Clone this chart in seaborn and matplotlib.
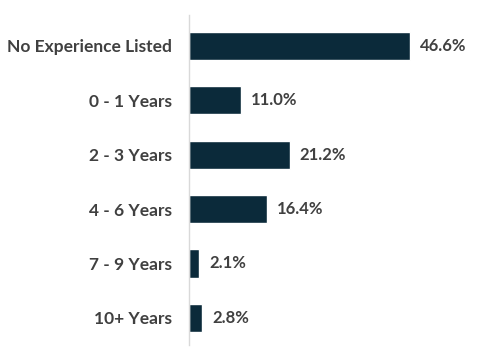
import matplotlib
matplotlib.use("Agg")
import matplotlib.pyplot as plt
import seaborn as sns
import pandas as pd

categories = ["No Experience Listed", "0 - 1 Years", "2 - 3 Years", "4 - 6 Years", "7 - 9 Years", "10+ Years"]
values = [46.6, 11.0, 21.2, 16.4, 2.1, 2.8]
value_labels = ["46.6%", "11.0%", "21.2%", "16.4%", "2.1%", "2.8%"]

sns.set_theme(style="white")
plt.rcParams["font.family"] = ["Lato", "DejaVu Sans"]

df = pd.DataFrame({"cat": categories, "val": values})

fig = plt.figure(figsize=(4.8, 3.64), dpi=100)
ax = fig.add_axes([0.394, 0.052, 0.606, 0.907])
sns.barplot(data=df, x="val", y="cat", color="#0b2a3a", saturation=1, width=0.52, ax=ax, orient="h")

ax.set_xlim(0, 61.4)
ax.set_ylim(5.5, -0.57)
ax.set_xlabel("")
ax.set_ylabel("")
ax.set_xticks([])
for s in ["top", "right", "bottom"]:
    ax.spines[s].set_visible(False)
ax.spines["left"].set_color("#d9d9d9")
ax.spines["left"].set_linewidth(1)
ax.tick_params(axis="y", length=0, pad=12.5)
for lab in ax.get_yticklabels():
    lab.set_fontsize(12.5)
    lab.set_fontweight("bold")
    lab.set_color("#404040")

for i, (v, t) in enumerate(zip(values, value_labels)):
    ax.annotate(t, xy=(v, i), xytext=(10, 0), textcoords="offset pixels",
                va="center", ha="left", fontsize=12, fontweight="bold", color="#404040")

fig.savefig("out.png", dpi=100)
